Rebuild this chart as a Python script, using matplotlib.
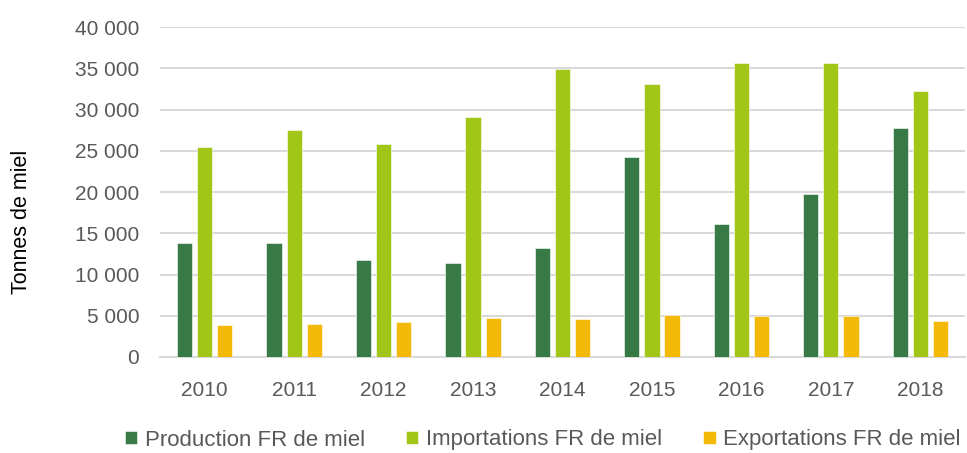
import numpy as np
import matplotlib.pyplot as plt
from matplotlib.ticker import FuncFormatter

plt.rcParams['font.family'] = ['Liberation Sans', 'DejaVu Sans']

years = ["2010", "2011", "2012", "2013", "2014", "2015", "2016", "2017", "2018"]
production = [13800, 13800, 11700, 11400, 13200, 24200, 16100, 19750, 27700]
importations = [25500, 27550, 25850, 29050, 34850, 33050, 35600, 35600, 32250]
exportations = [3900, 4050, 4200, 4700, 4650, 5100, 4950, 4950, 4350]

labels = ["Production FR de miel", "Importations FR de miel", "Exportations FR de miel"]
colors = ["#387A46", "#A2C617", "#F4B907"]
text_color = "#595959"

fig = plt.figure(figsize=(9.67, 4.53), dpi=100)
ax = fig.add_axes([160 / 967, 1 - 357 / 453, 805 / 967, 330 / 453])

x = np.arange(len(years))
w = 0.17
step = 0.225
for i, (vals, lab, col) in enumerate(zip([production, importations, exportations], labels, colors)):
    ax.bar(x + (i - 1) * step, vals, width=w, color=col, label=lab,
           edgecolor="white", linewidth=0.4, zorder=3)

ax.set_xlim(-0.5, len(years) - 0.5)
ax.set_ylim(0, 40000)
ax.set_yticks(np.arange(0, 40001, 5000))
ax.yaxis.set_major_formatter(FuncFormatter(lambda v, p: f"{int(v):,}".replace(",", " ")))
ax.set_xticks(x)
ax.set_xticklabels(years)
ax.grid(axis="y", color="#d9d9d9", linewidth=1.5, zorder=0)
for s in ["top", "right", "left"]:
    ax.spines[s].set_visible(False)
ax.spines["bottom"].set_color("#d9d9d9")
ax.spines["bottom"].set_linewidth(1.5)
ax.tick_params(axis="both", length=0, labelsize=15, colors=text_color)
ax.tick_params(axis="y", pad=15)
ax.tick_params(axis="x", pad=17)

fig.text(22 / 967, 1 - 222 / 453, "Tonnes de miel", rotation=90, ha="center", va="center",
         fontsize=15.5, color="black")

fig.legend(loc="center", bbox_to_anchor=(543 / 967, 1 - 440 / 453), ncol=3, frameon=False,
           fontsize=16, handlelength=0.55, handleheight=0.55, handletextpad=0.35,
           columnspacing=1.85, labelcolor=text_color)

fig.savefig("out.png", dpi=100)
